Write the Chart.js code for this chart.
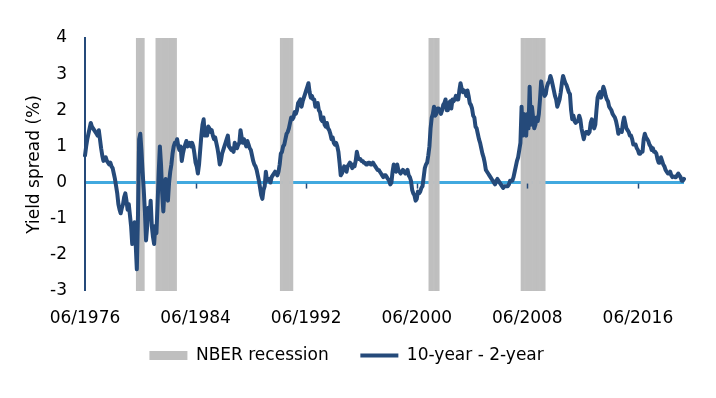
<!DOCTYPE html>
<html lang="en">
<head>
<meta charset="UTF-8">
<title>Yield spread</title>
<script src="https://cdn.jsdelivr.net/npm/chart.js@4/dist/chart.umd.min.js"></script>
<style>
  body { margin: 0; background: #fff; }
</style>
</head>
<body>
<canvas id="spreadChart" width="716" height="398"></canvas>
<script>
// monthly 10-year minus 2-year spread (%), 06/1976 .. 10/2019
const spread = [
  0.75, 1.0, 1.2, 1.35, 1.5, 1.65, 1.55,                                   // 1976 (Jun-Dec)
  1.5, 1.45, 1.4, 1.35, 1.3, 1.45, 1.2, 0.95, 0.75, 0.6, 0.65, 0.7,         // 1977
  0.6, 0.55, 0.5, 0.55, 0.45, 0.4, 0.25, 0.1, -0.1, -0.3, -0.6, -0.75,      // 1978
  -0.85, -0.7, -0.6, -0.4, -0.3, -0.5, -0.75, -0.6, -0.9, -1.2, -1.7, -1.5, // 1979
  -1.1, -1.7, -2.4, -0.9, 1.2, 1.35, 0.9, 0.3, -0.2, -0.8, -1.6, -1.2,      // 1980
  -0.7, -1.0, -0.5, -1.2, -1.5, -1.7, -1.2, -1.4, -0.6, 0.3, 1.0, 0.5,      // 1981
  -0.3, -0.8, -0.2, 0.1, -0.3, -0.5, 0.0, 0.3, 0.5, 0.8, 1.0, 1.1,          // 1982
  1.1, 1.2, 1.0, 0.9, 1.0, 0.6, 0.8, 0.95, 1.05, 1.15, 1.0, 1.05,           // 1983
  1.1, 1.0, 1.1, 1.0, 0.8, 0.55, 0.45, 0.25, 0.5, 0.9, 1.3, 1.6,            // 1984
  1.75, 1.3, 1.45, 1.3, 1.55, 1.5, 1.4, 1.45, 1.3, 1.2, 1.25, 1.1,          // 1985
  0.95, 0.75, 0.5, 0.6, 0.8, 0.9, 1.0, 1.1, 1.2, 1.3, 1.0, 0.95,            // 1986
  0.9, 0.95, 0.85, 1.1, 1.0, 0.95, 1.05, 1.1, 1.45, 1.25, 1.1, 1.2,         // 1987
  1.1, 1.0, 1.15, 1.05, 0.95, 0.9, 0.75, 0.6, 0.5, 0.45, 0.35, 0.2,         // 1988
  0.05, -0.15, -0.35, -0.45, -0.2, -0.1, 0.3, 0.05, 0.1, 0.1, 0.0, 0.15,    // 1989
  0.2, 0.25, 0.3, 0.25, 0.2, 0.3, 0.5, 0.8, 0.85, 1.0, 1.05, 1.2,           // 1990
  1.35, 1.4, 1.5, 1.65, 1.8, 1.75, 1.8, 1.95, 1.9, 2.0, 2.2, 2.25,          // 1991
  2.3, 2.1, 2.25, 2.35, 2.45, 2.55, 2.65, 2.75, 2.5, 2.35, 2.4, 2.3,        // 1992
  2.3, 2.1, 2.15, 2.2, 2.0, 1.95, 1.75, 1.7, 1.8, 1.6, 1.55, 1.65,          // 1993
  1.5, 1.45, 1.35, 1.2, 1.25, 1.1, 1.05, 1.1, 1.0, 0.85, 0.55, 0.2,         // 1994
  0.25, 0.35, 0.45, 0.4, 0.3, 0.45, 0.5, 0.55, 0.5, 0.4, 0.5, 0.45,         // 1995
  0.6, 0.85, 0.7, 0.65, 0.65, 0.6, 0.6, 0.55, 0.55, 0.5, 0.5, 0.55,         // 1996
  0.55, 0.5, 0.5, 0.55, 0.5, 0.45, 0.4, 0.35, 0.35, 0.3, 0.25, 0.2,         // 1997
  0.15, 0.2, 0.2, 0.15, 0.1, 0.05, -0.05, 0.0, 0.3, 0.5, 0.4, 0.3,          // 1998
  0.5, 0.35, 0.3, 0.25, 0.3, 0.35, 0.3, 0.25, 0.3, 0.35, 0.2, 0.15,         // 1999
  0.05, -0.2, -0.3, -0.35, -0.5, -0.45, -0.25, -0.3, -0.25, -0.15, -0.1, 0.15, // 2000
  0.4, 0.5, 0.55, 0.75, 1.0, 1.5, 1.8, 1.9, 2.1, 1.85, 1.9, 2.05,           // 2001
  2.05, 2.0, 1.9, 2.0, 2.15, 2.2, 2.3, 2.0, 2.0, 2.2, 2.25, 2.05,           // 2002
  2.3, 2.25, 2.3, 2.4, 2.3, 2.3, 2.55, 2.75, 2.6, 2.5, 2.55, 2.5,           // 2003
  2.4, 2.55, 2.4, 2.2, 2.15, 2.05, 1.85, 1.8, 1.55, 1.5, 1.35, 1.2,         // 2004
  1.1, 0.95, 0.8, 0.7, 0.55, 0.35, 0.3, 0.25, 0.2, 0.15, 0.1, 0.05,         // 2005
  0.0, -0.05, 0.05, 0.1, 0.05, 0.0, -0.05, -0.1, -0.15, -0.1, -0.1, -0.1,   // 2006
  -0.1, -0.05, 0.05, 0.05, 0.05, 0.15, 0.3, 0.45, 0.6, 0.7, 0.9, 1.1,       // 2007
  2.1, 1.3, 1.9, 1.4, 1.3, 1.9, 1.5, 2.65, 1.6, 2.1, 1.8, 1.5,              // 2008
  1.6, 1.8, 1.7, 1.9, 2.3, 2.8, 2.6, 2.5, 2.4, 2.45, 2.65, 2.75,            // 2009
  2.8, 2.95, 2.85, 2.7, 2.55, 2.4, 2.3, 2.1, 2.2, 2.3, 2.5, 2.75,           // 2010
  2.95, 2.85, 2.75, 2.7, 2.6, 2.5, 2.45, 2.0, 1.75, 1.85, 1.7, 1.65,        // 2011
  1.7, 1.7, 1.85, 1.75, 1.5, 1.35, 1.2, 1.35, 1.4, 1.4, 1.35, 1.4,          // 2012
  1.65, 1.75, 1.6, 1.5, 1.6, 2.0, 2.35, 2.45, 2.5, 2.35, 2.5, 2.65,         // 2013
  2.55, 2.4, 2.3, 2.25, 2.1, 2.05, 2.0, 1.9, 1.85, 1.8, 1.7, 1.55,          // 2014
  1.35, 1.45, 1.45, 1.4, 1.65, 1.8, 1.65, 1.5, 1.45, 1.4, 1.3, 1.3,         // 2015
  1.2, 1.05, 1.05, 1.05, 0.95, 0.9, 0.8, 0.8, 0.85, 0.85, 1.2, 1.35,        // 2016
  1.25, 1.2, 1.15, 1.05, 1.0, 0.9, 0.95, 0.85, 0.85, 0.8, 0.65, 0.55,       // 2017
  0.55, 0.7, 0.6, 0.5, 0.45, 0.35, 0.3, 0.25, 0.25, 0.3, 0.2, 0.15,         // 2018
  0.17, 0.15, 0.15, 0.2, 0.25, 0.2, 0.15, 0.05, 0.05, 0.1                   // 2019 (Jan-Oct)
];

const startYear = 1976;
const startMonth = 6;

// shaded NBER recession periods, as drawn in the chart
const recessions = [
  ['03/1980', '09/1980'],
  ['08/1981', '01/1983'],
  ['08/1990', '06/1991'],
  ['05/2001', '01/2002'],
  ['01/2008', '09/2009']
];

const tickLabels = ['06/1976', '06/1984', '06/1992', '06/2000', '06/2008', '06/2016'];

const yMin = -3;
const yMax = 4;

// month labels
const months = spread.map((_, i) => {
  const m = (startMonth - 1 + i) % 12 + 1;
  const y = startYear + Math.floor((startMonth - 1 + i) / 12);
  return String(m).padStart(2, '0') + '/' + y;
});

const monthKey = s => { const [m, y] = s.split('/'); return +y * 12 + (+m); };

const recessionBars = months.map(lbl => {
  const k = monthKey(lbl);
  return recessions.some(([a, b]) => k >= monthKey(a) && k <= monthKey(b)) ? [yMin, yMax] : null;
});

const darkBlue = '#254A7A';
const lightBlue = '#41A9DF';
const grey = '#BFBFBF';
const font = { family: 'DejaVu Sans', size: 17 };

// small tick marks hanging from the zero line
const zeroTicks = {
  id: 'zeroTicks',
  afterDraw(chart) {
    const { ctx, scales: { x, y } } = chart;
    const y0 = y.getPixelForValue(0);
    ctx.save();
    ctx.strokeStyle = darkBlue;
    ctx.lineWidth = 1.5;
    tickLabels.slice(1).forEach(l => {
      const px = Math.round(x.getPixelForValue(months.indexOf(l))) + 0.5;
      ctx.beginPath();
      ctx.moveTo(px, y0 + 1);
      ctx.lineTo(px, y0 + 6);
      ctx.stroke();
    });
    ctx.restore();
  }
};

new Chart(document.getElementById('spreadChart'), {
  type: 'line',
  data: {
    labels: months,
    datasets: [
      {
        type: 'line',
        label: '10-year - 2-year',
        data: spread,
        borderColor: darkBlue,
        backgroundColor: darkBlue,
        borderWidth: 4,
        pointRadius: 0,
        pointStyle: 'line',
        tension: 0,
        borderJoinStyle: 'round',
        borderCapStyle: 'round',
        order: 0
      },
      {
        type: 'bar',
        label: 'NBER recession',
        data: recessionBars,
        backgroundColor: grey,
        borderWidth: 0,
        barPercentage: 1,
        categoryPercentage: 1,
        pointStyle: 'rect',
        order: 1
      }
    ]
  },
  options: {
    responsive: false,
    animation: false,
    layout: { padding: { left: 20, right: 32, top: 38, bottom: 24 } },
    scales: {
      x: {
        type: 'category',
        offset: false,
        grid: { display: false, drawTicks: false, offset: false },
        border: { display: false },
        ticks: {
          autoSkip: false,
          maxRotation: 0,
          minRotation: 0,
          padding: 17,
          color: '#000',
          font: font,
          callback: function (v) {
            const l = this.getLabelForValue(v);
            return tickLabels.includes(l) ? l : '';
          }
        },
        afterFit: s => { s.height = 46; }
      },
      y: {
        min: yMin,
        max: yMax,
        z: 1,
        ticks: { stepSize: 1, color: '#000', font: font, padding: 18 },
        grid: {
          drawTicks: false,
          color: c => (c.tick && c.tick.value === 0 ? lightBlue : 'rgba(0,0,0,0)'),
          lineWidth: c => (c.tick && c.tick.value === 0 ? 3 : 0)
        },
        border: { display: true, color: darkBlue, width: 2 },
        title: { display: true, text: 'Yield spread (%)', color: '#000', font: font, padding: 4 },
        afterFit: s => { s.width = 65; }
      }
    },
    plugins: {
      legend: {
        position: 'bottom',
        reverse: true,
        labels: {
          usePointStyle: true,
          pointStyleWidth: 38,
          boxHeight: 9,
          padding: 10,
          color: '#000',
          font: font,
          // wider gaps between entries, as in the original legend
          generateLabels: chart => {
            const items = Chart.defaults.plugins.legend.labels.generateLabels(chart);
            items.forEach(it => { it.text += it.datasetIndex === 1 ? '    ' : '  '; });
            return items;
          }
        }
      },
      tooltip: { enabled: false }
    }
  },
  plugins: [zeroTicks]
});
</script>
</body>
</html>
